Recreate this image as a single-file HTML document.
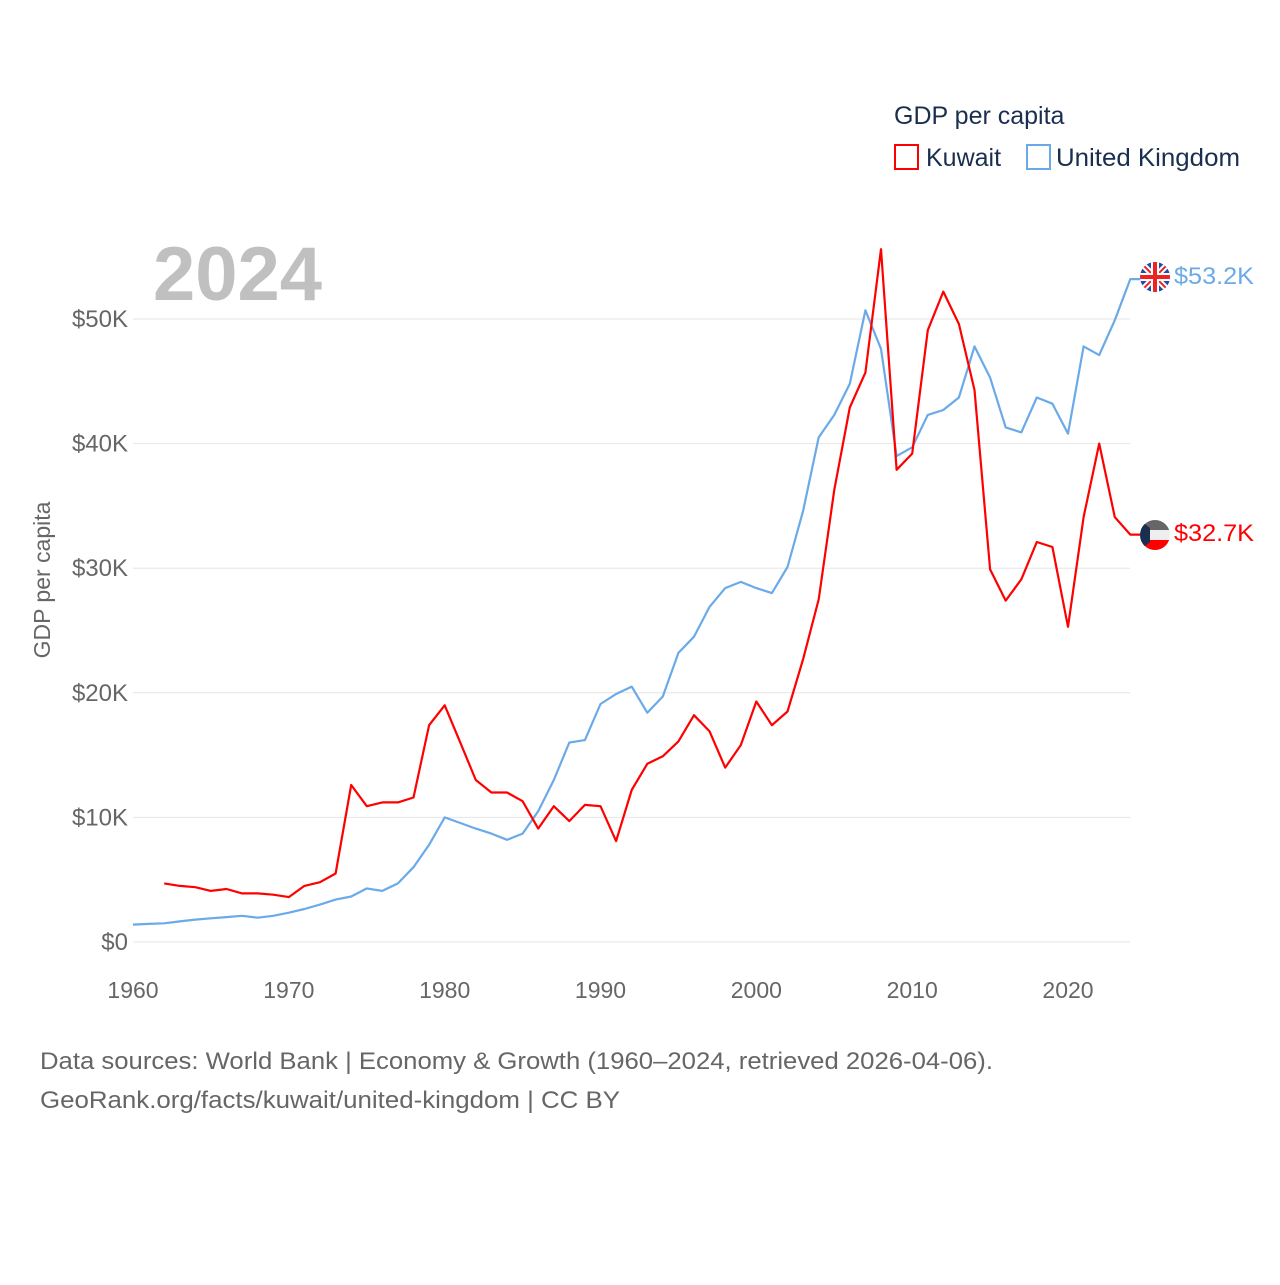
<!DOCTYPE html>
<html><head><meta charset="utf-8">
<style>
html,body{margin:0;padding:0;background:#fff;}
svg text{font-family:"Liberation Sans",sans-serif;}
</style></head>
<body>
<svg id="chart" width="1280" height="1280" viewBox="0 0 1280 1280" xmlns="http://www.w3.org/2000/svg">
  <g id="grid"></g>
  <g id="yticks"></g>
  <g id="xticks"></g>
  <text x="153" y="300" font-size="76" font-weight="bold" fill="#c0c0c0">2024</text>
  <text transform="translate(50,580) rotate(-90)" text-anchor="middle" font-size="23" fill="#666">GDP per capita</text>
  <g id="lines"></g>
  <g>
    <text x="894" y="124" font-size="25" fill="#1a2e4f">GDP per capita</text>
    <rect x="895" y="145" width="23" height="24" fill="none" stroke="#ff0000" stroke-width="2"/>
    <text x="926" y="166" font-size="25" fill="#1a2e4f">Kuwait</text>
    <rect x="1027" y="145" width="23" height="24" fill="none" stroke="#6aaae8" stroke-width="2"/>
    <text x="1056" y="166" font-size="25" fill="#1a2e4f" textLength="184" lengthAdjust="spacingAndGlyphs">United Kingdom</text>
  </g>
  <g>
    <clipPath id="cu"><circle cx="1155" cy="277" r="15"/></clipPath>
    <g clip-path="url(#cu)">
      <rect x="1140" y="262" width="30" height="30" fill="#1f4fa0"/>
      <path d="M1140 262 L1170 292 M1170 262 L1140 292" stroke="#fff" stroke-width="6"/>
      <path d="M1140 262 L1170 292 M1170 262 L1140 292" stroke="#e22" stroke-width="2"/>
      <path d="M1155 262 V292 M1140 277 H1170" stroke="#fff" stroke-width="8"/>
      <path d="M1155 262 V292 M1140 277 H1170" stroke="#e22" stroke-width="4"/>
    </g>
  </g>
  <g>
    <clipPath id="ck"><circle cx="1155" cy="535" r="15"/></clipPath>
    <g clip-path="url(#ck)">
      <rect x="1140" y="520" width="30" height="10" fill="#666"/>
      <rect x="1140" y="530" width="30" height="10" fill="#eee"/>
      <rect x="1140" y="540" width="30" height="10" fill="#f00"/>
      <path d="M1140 520 L1150 528 L1150 542 L1140 550 Z" fill="#1a2e4f"/>
    </g>
  </g>
  <text x="1174" y="284" font-size="24" fill="#6aaae8" textLength="80" lengthAdjust="spacingAndGlyphs">$53.2K</text>
  <text x="1174" y="541" font-size="24" fill="#ff0000" textLength="80" lengthAdjust="spacingAndGlyphs">$32.7K</text>
  <text x="40" y="1069" font-size="24" fill="#666" textLength="953" lengthAdjust="spacingAndGlyphs">Data sources: World Bank | Economy &amp; Growth (1960–2024, retrieved 2026-04-06).</text>
  <text x="40" y="1108" font-size="24" fill="#666" textLength="580" lengthAdjust="spacingAndGlyphs">GeoRank.org/facts/kuwait/united-kingdom | CC BY</text>
</svg>
<script>
const years = [];
for (let y = 1960; y <= 2024; y++) years.push(y);
const kuwaitStart = 1962;
const kuwait = [4.7,4.5,4.4,4.1,4.25,3.9,3.9,3.8,3.6,4.5,4.8,5.5,12.6,10.9,11.2,11.2,11.6,17.4,19.0,16.0,13.0,12.0,12.0,11.3,9.1,10.9,9.7,11.0,10.9,8.1,12.2,14.3,14.9,16.1,18.2,16.9,14.0,15.8,19.3,17.4,18.5,22.7,27.5,36.3,42.9,45.7,55.6,37.9,39.2,49.1,52.2,49.6,44.3,29.9,27.4,29.1,32.1,31.7,25.3,34.1,40.0,34.1,32.7];
const uk = [1.4,1.45,1.5,1.65,1.8,1.9,2.0,2.1,1.95,2.1,2.35,2.65,3.0,3.4,3.65,4.3,4.1,4.7,6.0,7.8,10.0,9.55,9.1,8.7,8.2,8.7,10.5,13.0,16.0,16.2,19.1,19.9,20.5,18.4,19.7,23.2,24.5,26.9,28.4,28.9,28.4,28.0,30.1,34.6,40.5,42.3,44.8,50.7,47.6,39.0,39.7,42.3,42.7,43.7,47.8,45.3,41.3,40.9,43.7,43.2,40.8,47.8,47.1,49.9,53.2];
const yTickValues = [0,10,20,30,40,50];
const yTickLabels = ["$0","$10K","$20K","$30K","$40K","$50K"];
const xTickValues = [1960,1970,1980,1990,2000,2010,2020];

const NS = "http://www.w3.org/2000/svg";
const xs = yr => 133 + (yr - 1960) * (1068 - 133) / 60;
const ys = v => 942 - v * (942 - 319) / 50;
function mk(tag, attrs, parent) {
  const e = document.createElementNS(NS, tag);
  for (const k in attrs) e.setAttribute(k, attrs[k]);
  parent.appendChild(e);
  return e;
}
const grid = document.getElementById('grid');
const yt = document.getElementById('yticks');
yTickValues.forEach((v, i) => {
  const l = mk('line', {x1: 133, x2: 1130, y1: ys(v), y2: ys(v), stroke: '#e6e6e6', 'stroke-width': 1}, grid);
  
  
  const t = mk('text', {x: 128, y: ys(v) + 8, 'text-anchor': 'end', 'font-size': 24, fill: '#666'}, yt);
  t.textContent = yTickLabels[i];
  
  
});
const xt = document.getElementById('xticks');
xTickValues.forEach(v => {
  const t = mk('text', {x: xs(v), y: 998, 'text-anchor': 'middle', 'font-size': 23, fill: '#666'}, xt);
  t.textContent = String(v);
  
  
});
const lines = document.getElementById('lines');
const ukPts = uk.map((v, i) => xs(years[i]).toFixed(1) + ',' + ys(v).toFixed(1)).join(' ');
const ukLine = mk('polyline', {points: ukPts + ' ' + (xs(2024)+10) + ',' + ys(uk[uk.length-1]).toFixed(1), fill: 'none', stroke: '#6aaae8', 'stroke-width': 2.2, 'stroke-linejoin': 'round'}, lines);


const kwPts = kuwait.map((v, i) => xs(kuwaitStart + i).toFixed(1) + ',' + ys(v).toFixed(1)).join(' ');
const kwLine = mk('polyline', {points: kwPts + ' ' + (xs(2024)+10) + ',' + ys(kuwait[kuwait.length-1]).toFixed(1), fill: 'none', stroke: '#ff0000', 'stroke-width': 2.2, 'stroke-linejoin': 'round'}, lines);


</script>
</body></html>
